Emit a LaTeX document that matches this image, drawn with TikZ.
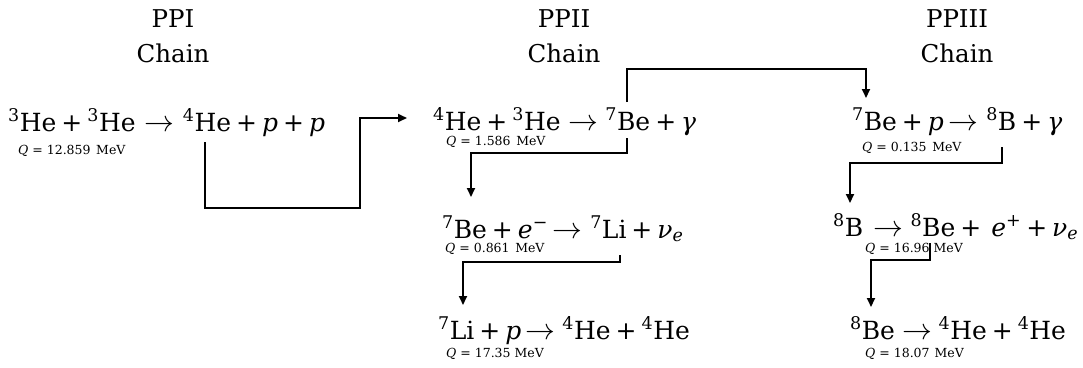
\documentclass[tikz,border=0pt]{standalone}
\usepackage{fontspec}
\setmainfont{DejaVu Serif}
\usetikzlibrary{arrows.meta}
\newcommand{\pl}{\hspace{0.2em}+\hspace{0.2em}}
\newcommand{\ra}[2]{\hspace{#1}\scalebox{1.2}{$\rightarrow$}\hspace{#2}}
\newcommand{\iso}[2]{\textsuperscript{#1}#2}
\newcommand{\vi}[1]{\textit{#1}}
\tikzset{
  eq/.style={anchor=base west, inner sep=0pt, font=\fontsize{25}{30}\selectfont},
  qlab/.style={anchor=west, inner sep=0pt, font=\fontsize{12.5}{15}\selectfont},
  ttl/.style={anchor=base, inner sep=0pt, font=\fontsize{24.5}{30}\selectfont},
  conn/.style={line width=1.8pt},
  arr/.style={conn, -{Triangle[length=9pt,width=8pt]}}
}
\begin{document}
\begin{tikzpicture}[x=1pt,y=-1pt]
\useasboundingbox (0,0) rectangle (1083,367);
% titles
\node[ttl] (t1a) at (173,27) {PPI};
\node[ttl] (t1b) at (173,62) {Chain};
\node[ttl] (t2a) at (564,27) {PPII};
\node[ttl] (t2b) at (564,62) {Chain};
\node[ttl] (t3a) at (957,27) {PPIII};
\node[ttl] (t3b) at (957,62) {Chain};
% equations
\node[eq] (e1) at (8,131) {\iso{3}{He}\pl\iso{3}{He}\ra{0.35em}{0.35em}\iso{4}{He}\pl\vi{p}\pl\vi{p}};
\node[qlab] (q1) at (18,151) {\vi{Q} = 12.859\hspace{0.45em}MeV};
\node[eq] (e2) at (433,130) {\iso{4}{He}\pl\iso{3}{He}\ra{0.3em}{0.3em}\iso{7}{Be}\pl\vi{γ}};
\node[qlab] (q2) at (446,142) {\vi{Q} = 1.586\hspace{0.45em}MeV};
\node[eq] (e3) at (442,238) {\iso{7}{Be}\pl\vi{e}\textsuperscript{−}\ra{0.2em}{0.3em}\iso{7}{Li}\pl\vi{ν}\textsubscript{\vi{e}}};
\node[qlab] (q3) at (445,249) {\vi{Q} = 0.861\hspace{0.45em}MeV};
\node[eq] (e4) at (438,339) {\iso{7}{Li}\pl\vi{p}\ra{0.15em}{0.3em}\iso{4}{He}\pl\iso{4}{He}};
\node[qlab] (q4) at (446,354) {\vi{Q} = 17.35 MeV};
\node[eq] (e5) at (852,130) {\iso{7}{Be}\pl\vi{p}\ra{0.2em}{0.3em}\iso{8}{B}\pl\vi{γ}};
\node[qlab] (q5) at (862,148) {\vi{Q} = 0.135\hspace{0.45em}MeV};
\node[eq] (e6) at (833,236) {\iso{8}{B}\ra{0.4em}{0.3em}\iso{8}{Be}\pl\hspace{0.2em}\vi{e}\textsuperscript{+}\pl\vi{ν}\textsubscript{\vi{e}}};
\node[qlab] (q6) at (865,249) {\vi{Q} = 16.96 MeV};
\node[eq] (e7) at (850,339) {\iso{8}{Be}\ra{0.3em}{0.25em}\iso{4}{He}\pl\iso{4}{He}};
\node[qlab] (q7) at (865,354) {\vi{Q} = 18.07\hspace{0.4em}MeV};
% connector coordinates
\coordinate (c1s) at (205,142);
\coordinate (c1e) at (407,118);
\coordinate (c2s) at (627,102);
\coordinate (c2e) at (866,98);
\coordinate (c3s) at (627,138);
\coordinate (c3e) at (471,197);
\coordinate (c4s) at (620,255);
\coordinate (c4e) at (463,305);
\coordinate (c5s) at (1002,147);
\coordinate (c5e) at (850,203);
\coordinate (c6s) at (930,243);
\coordinate (c6e) at (871,307);
% connectors
\draw[arr] (c1s) -- (205,208) -- (360,208) -- (360,118) -- (c1e);
\draw[arr] (c2s) -- (627,69) -- (866,69) -- (c2e);
\draw[arr] (c3s) -- (627,153) -- (471,153) -- (c3e);
\draw[arr] (c4s) -- (620,262) -- (463,262) -- (c4e);
\draw[arr] (c5s) -- (1002,163) -- (850,163) -- (c5e);
\draw[arr] (c6s) -- (930,260) -- (871,260) -- (c6e);
\end{tikzpicture}
\end{document}
